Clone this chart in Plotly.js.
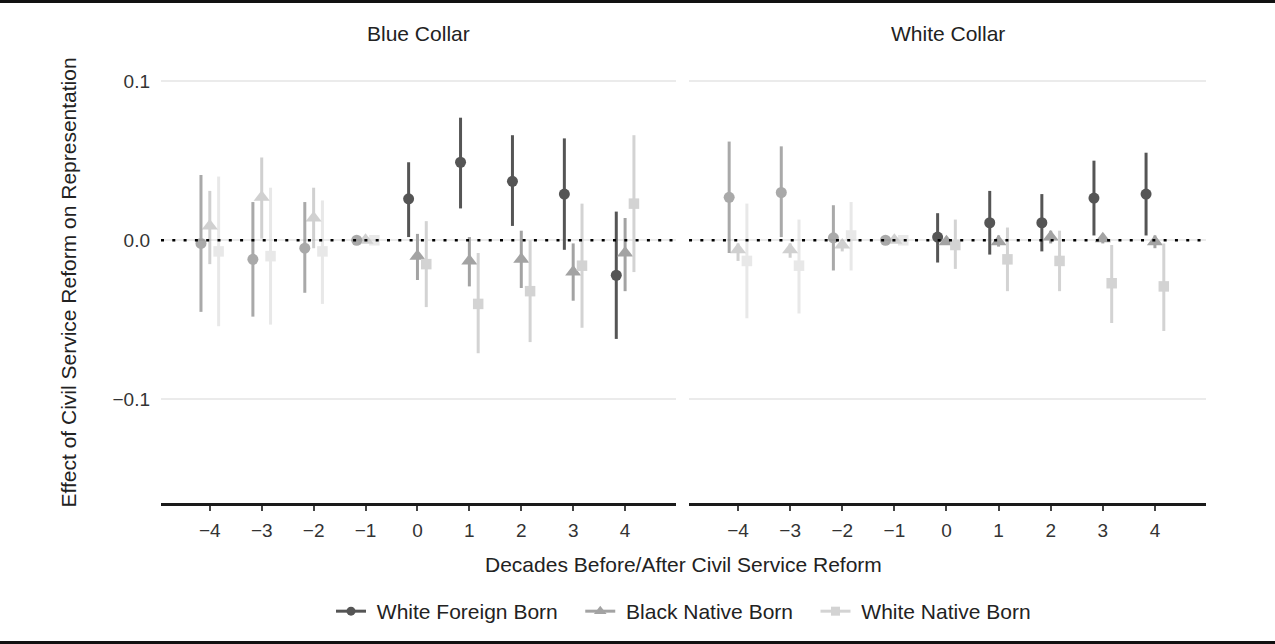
<!DOCTYPE html>
<html>
<head>
<meta charset="utf-8">
<script src="https://cdn.plot.ly/plotly-3.0.1.min.js"></script>
<style>
  html, body { margin: 0; padding: 0; background: #fff; }
  #wrap { position: relative; width: 1275px; height: 644px; }
  #chart { width: 1275px; height: 644px; }
  .rule { position: absolute; left: 0; width: 1275px; height: 3px; background: #111; }
</style>
</head>
<body>
<div id="wrap">
  <div id="chart"></div>
  <div class="rule" style="top:0"></div>
  <div class="rule" style="bottom:0"></div>
</div>
<script>
// ---- data ----
const periods = [-4, -3, -2, -1, 0, 1, 2, 3, 4];
const xTickLabels = ['\u22124', '\u22123', '\u22122', '\u22121', '0', '1', '2', '3', '4'];
const yTickVals = [-0.1, 0, 0.1];
const yTickLabels = ['\u22120.1', '0.0', '0.1'];
const panels = ['Blue Collar', 'White Collar'];
const seriesNames = ['White Foreign Born', 'Black Native Born', 'White Native Born'];

// Blue Collar
const blueWFB_est = [-0.002, -0.012, -0.005, 0, 0.026, 0.049, 0.037, 0.029, -0.022];
const blueWFB_hi  = [0.041, 0.024, 0.024, 0, 0.049, 0.077, 0.066, 0.064, 0.018];
const blueWFB_lo  = [-0.045, -0.048, -0.033, 0, 0.002, 0.020, 0.009, -0.006, -0.062];

const blueBNB_est = [0.009, 0.027, 0.014, 0, -0.010, -0.013, -0.012, -0.020, -0.008];
const blueBNB_hi  = [0.031, 0.052, 0.033, 0, 0.004, 0.002, 0.006, -0.002, 0.014];
const blueBNB_lo  = [-0.015, 0.001, -0.005, 0, -0.025, -0.029, -0.030, -0.038, -0.032];

const blueWNB_est = [-0.007, -0.010, -0.007, 0, -0.015, -0.040, -0.032, -0.016, 0.023];
const blueWNB_hi  = [0.040, 0.033, 0.025, 0, 0.012, -0.008, 0.000, 0.023, 0.066];
const blueWNB_lo  = [-0.054, -0.053, -0.040, 0, -0.042, -0.071, -0.064, -0.055, -0.020];

// White Collar
const whiteWFB_est = [0.027, 0.030, 0.0015, 0, 0.002, 0.011, 0.011, 0.0265, 0.029];
const whiteWFB_hi  = [0.062, 0.059, 0.022, 0, 0.017, 0.031, 0.029, 0.050, 0.055];
const whiteWFB_lo  = [-0.008, 0.002, -0.019, 0, -0.014, -0.009, -0.007, 0.003, 0.003];

const whiteBNB_est = [-0.006, -0.006, -0.003, 0, -0.001, -0.001, 0.002, 0.001, -0.001];
const whiteBNB_hi  = [-0.002, -0.002, 0.000, 0, 0.001, 0.003, 0.006, 0.004, 0.003];
const whiteBNB_lo  = [-0.013, -0.011, -0.007, 0, -0.003, -0.004, -0.002, -0.002, -0.005];

const whiteWNB_est = [-0.013, -0.016, 0.003, 0, -0.003, -0.012, -0.013, -0.027, -0.029];
const whiteWNB_hi  = [0.023, 0.013, 0.024, 0, 0.013, 0.008, 0.006, -0.003, -0.002];
const whiteWNB_lo  = [-0.049, -0.046, -0.019, 0, -0.018, -0.032, -0.032, -0.052, -0.057];

// ---- styling ----
const FONT = 'Liberation Sans, Arial, Helvetica, sans-serif';
const FS = 21;
const colors = ['#555555', '#a3a3a3', '#d3d3d3'];
const symbols = ['circle', 'triangle-up', 'square'];
const sizes = [11, 14, 10.5];
const dodge = [-0.17, 0, 0.17];

const panelData = [
  [[blueWFB_est, blueWFB_lo, blueWFB_hi], [blueBNB_est, blueBNB_lo, blueBNB_hi], [blueWNB_est, blueWNB_lo, blueWNB_hi]],
  [[whiteWFB_est, whiteWFB_lo, whiteWFB_hi], [whiteBNB_est, whiteBNB_lo, whiteBNB_hi], [whiteWNB_est, whiteWNB_lo, whiteWNB_hi]]
];
const xaxes = ['x', 'x2'];

const traces = [];
panelData.forEach((series, p) => {
  series.forEach((s, k) => {
    const [est, lo, hi] = s;
    [true, false].forEach(pre => {
      const idx = periods.map((d, i) => i).filter(i => pre ? periods[i] < 0 : periods[i] >= 0);
      traces.push({
        type: 'scatter',
        mode: 'markers',
        xaxis: xaxes[p],
        yaxis: 'y',
        x: idx.map(i => periods[i] + dodge[k]),
        y: idx.map(i => est[i]),
        opacity: pre ? 0.5 : 1,
        marker: { symbol: symbols[k], size: sizes[k], color: colors[k], line: { width: 0 } },
        error_y: {
          type: 'data', symmetric: false,
          array: idx.map(i => hi[i] - est[i]),
          arrayminus: idx.map(i => est[i] - lo[i]),
          color: colors[k], thickness: 3, width: 0
        },
        showlegend: false,
        hoverinfo: 'skip'
      });
    });
  });
});

// legend entries
const NB = '\u00a0';
seriesNames.forEach((name, k) => {
  traces.push({
    type: 'scatter', mode: 'lines+markers',
    name: NB + name + (k < seriesNames.length - 1 ? NB + NB + NB : ''),
    x: [null], y: [null], xaxis: 'x', yaxis: 'y',
    line: { color: colors[k], width: 3 },
    marker: { symbol: symbols[k], size: k === 1 ? 11 : 9, color: colors[k] },
    showlegend: true
  });
});

const L = 161, R = 69, T = 62, B = 135;
const W = 1275, H = 644;
const plotH = H - T - B;
const py = pix => (H - B - pix) / plotH;
const px = pix => (pix - L) / (W - L - R);

const xBase = {
  range: [-4.94, 4.98],
  tickvals: periods, ticktext: xTickLabels,
  showgrid: false, zeroline: false,
  showline: true, linecolor: '#1a1a1a', linewidth: 2.5,
  ticks: 'outside', ticklen: 5, tickwidth: 2, tickcolor: '#444',
  tickfont: { family: FONT, size: 19, color: '#333' },
  ticklabelstandoff: 4,
  fixedrange: true, anchor: 'y'
};

const layout = {
  width: W, height: H,
  margin: { l: L, r: R, t: T, b: B, pad: 0 },
  paper_bgcolor: '#ffffff', plot_bgcolor: '#ffffff',
  font: { family: FONT, color: '#222' },
  xaxis: Object.assign({}, xBase, { domain: [0, 0.4928] }),
  xaxis2: Object.assign({}, xBase, { domain: [0.5053, 1] }),
  yaxis: {
    range: [-0.1651, 0.112],
    tickvals: yTickVals, ticktext: yTickLabels,
    showgrid: true, gridcolor: '#ebebeb', gridwidth: 2,
    zeroline: false, showline: false, ticks: '',
    tickfont: { family: FONT, size: 19, color: '#333' },
    ticklabelstandoff: 10,
    fixedrange: true
  },
  shapes: xaxes.map(ax => ({
    type: 'line', xref: ax + ' domain', yref: 'y',
    x0: 0, x1: 1, y0: 0, y1: 0, layer: 'above',
    line: { color: '#000', width: 2.5, dash: '3px,8.3px' }
  })),
  annotations: [
    { text: panels[0], xref: 'x domain', x: 0.5, yref: 'paper', y: py(33), showarrow: false,
      xanchor: 'center', yanchor: 'middle', font: { family: FONT, size: FS, color: '#222' } },
    { text: panels[1], xref: 'x2 domain', x: 0.5, yref: 'paper', y: py(33), showarrow: false,
      xanchor: 'center', yanchor: 'middle', font: { family: FONT, size: FS, color: '#222' } },
    { text: 'Decades Before/After Civil Service Reform', xref: 'paper', x: 0.5, yref: 'paper', y: py(571),
      showarrow: false, xanchor: 'center', yanchor: 'middle', font: { family: FONT, size: FS, color: '#222' } },
    { text: 'Effect of Civil Service Reform on Representation', xref: 'paper', x: px(68), yref: 'paper', y: 0.5,
      textangle: -90, showarrow: false, xanchor: 'center', yanchor: 'middle',
      font: { family: FONT, size: FS, color: '#222' } }
  ],
  showlegend: true,
  legend: {
    orientation: 'h', x: 0.5, xanchor: 'center', y: py(619), yanchor: 'middle',
    font: { family: FONT, size: FS, color: '#222' },
    bgcolor: 'rgba(0,0,0,0)', traceorder: 'normal'
  }
};

Plotly.newPlot('chart', traces, layout, { displayModeBar: false, staticPlot: true });
</script>
</body>
</html>
